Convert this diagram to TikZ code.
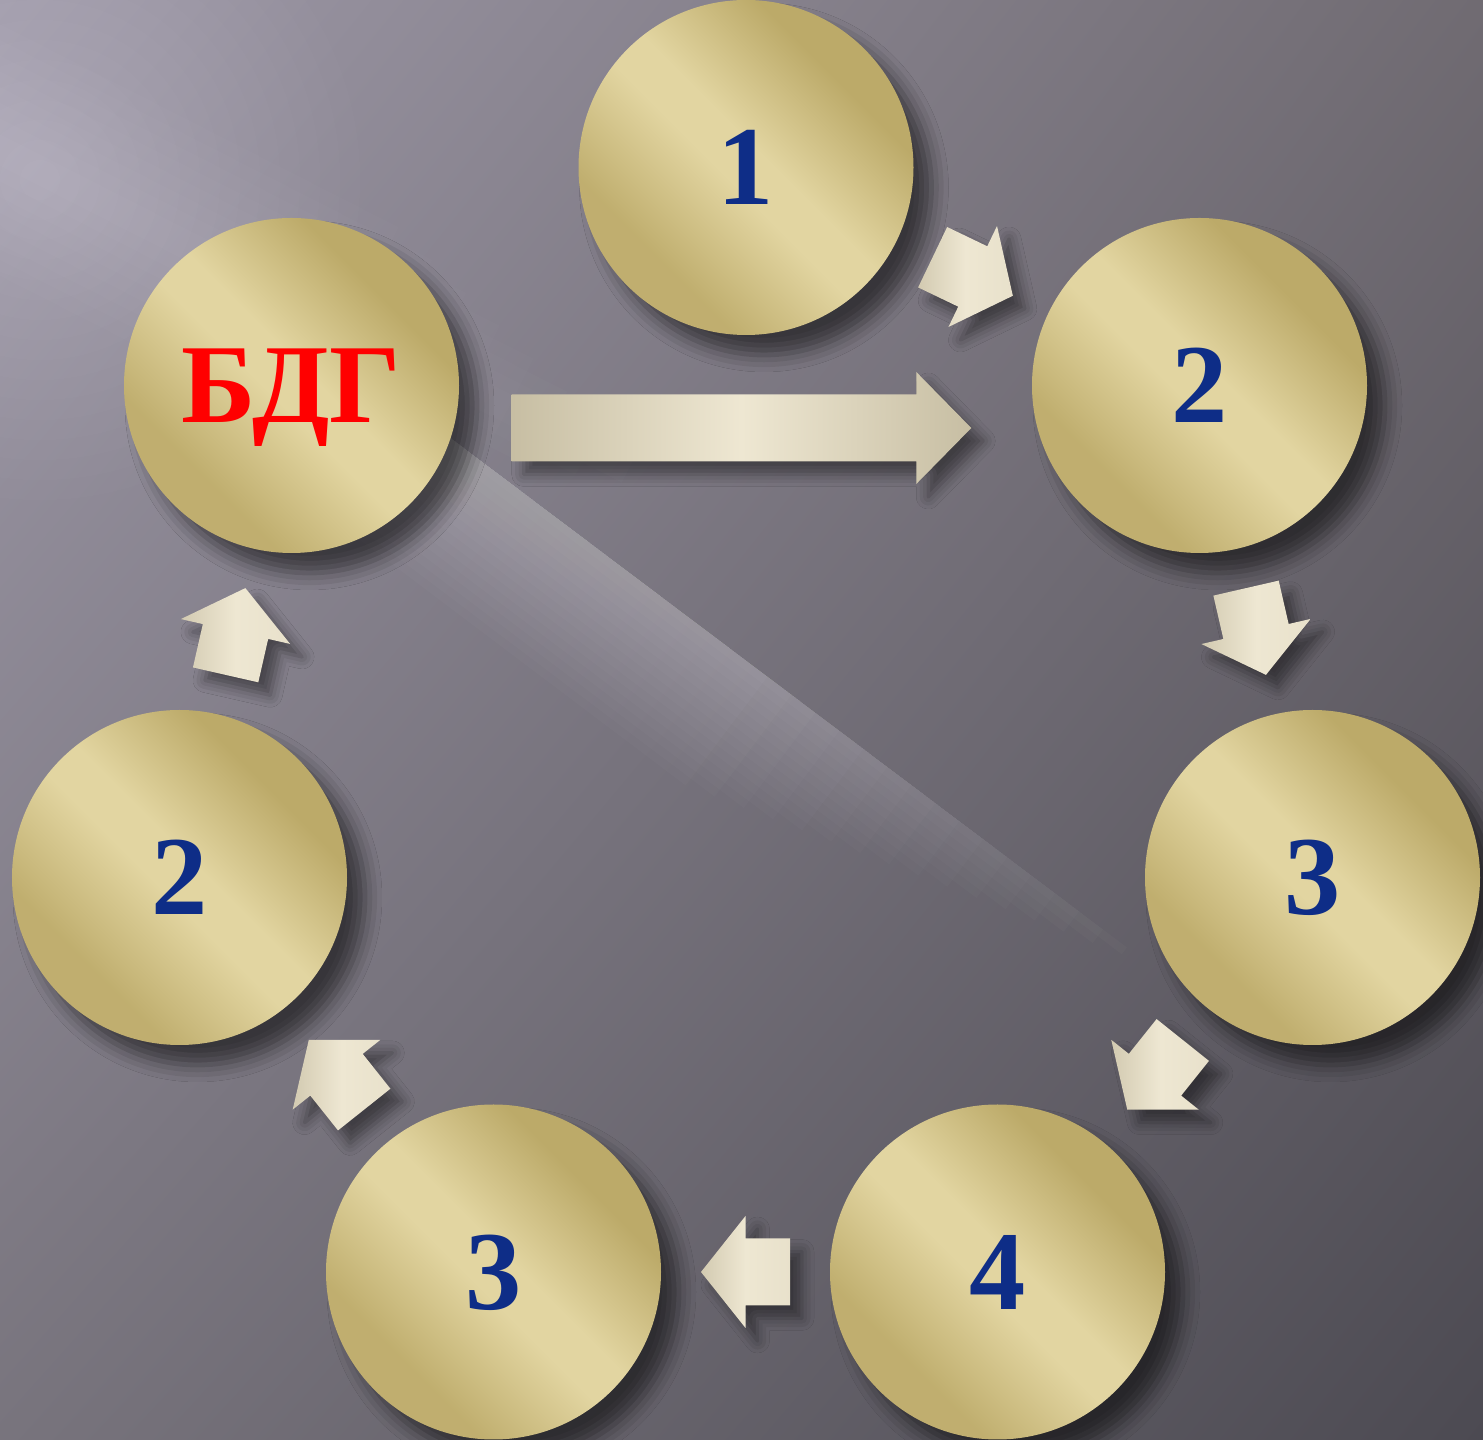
\documentclass[tikz,border=0pt]{standalone}
\usepackage{fontspec}
\setmainfont{Liberation Serif}
\usetikzlibrary{calc,shadows.blur,shadings}

\definecolor{disc}{RGB}{226,213,161}
\definecolor{discdark}{RGB}{188,170,105}
\definecolor{cream}{RGB}{238,231,210}
\definecolor{creamdark}{RGB}{199,190,163}
\definecolor{numblue}{RGB}{14,45,135}
\definecolor{bgul}{RGB}{158,153,168}
\definecolor{bgur}{RGB}{112,107,114}
\definecolor{bgll}{RGB}{120,116,125}
\definecolor{bglr}{RGB}{76,74,82}
\pgfdeclareverticalshading{discshade}{100bp}{color(0bp)=(discdark!90!disc); color(31bp)=(discdark!90!disc);
  color(47bp)=(disc); color(53bp)=(disc); color(69bp)=(discdark); color(100bp)=(discdark)}

\begin{document}
\begin{tikzpicture}[
   disc/.style={circle,minimum size=3.35cm,inner sep=0pt,text depth=0pt,
     shading=discshade,shading angle=-45,
     blur shadow={shadow xshift=0.18cm,shadow yshift=-0.2cm,shadow blur radius=0.17cm,shadow opacity=55},
     font=\fontsize{32pt}{36pt}\selectfont\bfseries,text=numblue},
   arrowshade/.style={left color=creamdark!70!cream,right color=cream!85!creamdark,middle color=cream,
     blur shadow={shadow xshift=0.12cm,shadow yshift=-0.13cm,shadow blur radius=0.12cm,shadow opacity=45}},
   flowarrow/.pic={
     \shade[arrowshade] (-0.445,-0.335) -- (0,-0.335) -- (0,-0.56) -- (0.445,0)
       -- (0,0.56) -- (0,0.335) -- (-0.445,0.335) -- cycle;}]
   \useasboundingbox (0,0) rectangle (14.83,14.40);
   \shade[upper left=bgul,upper right=bgur,lower left=bgll,lower right=bglr] (0,0) rectangle (14.83,14.40);
   \foreach \w in {1,...,16}
     \fill[white,opacity=0.014] (0.4,12.6) circle (0.2*\w);
   \begin{scope}[shift={(4.8,9.8)},rotate=-37]
     \foreach \w in {1,...,16}
       \fill[white,opacity=0.018] (-2.6+0.1*\w,-0.085*\w) rectangle (8.4-0.3*\w,0);
   \end{scope}
   \begin{scope}[shift={(0,12.9)},rotate=-27]
     \foreach \w in {1,...,8}
       \fill[white,opacity=0.014] (-4,-0.14*\w) rectangle (7.5-0.45*\w,0.14*\w);
   \end{scope}
   \node[disc] (one) at (7.46,12.725) {1};
   \node[disc] (two) at (11.995,10.545) {2};
   \node[disc] (three) at (13.125,5.625) {3};
   \node[disc] (four) at (9.975,1.68) {4};
   \node[disc] (threeb) at (4.935,1.68) {3};
   \node[disc] (twob) at (1.795,5.625) {2};
   \node[disc,text=red] (bdg) at (2.915,10.545) {БДГ};
   \foreach \a/\b in {one/two,two/three,three/four,four/threeb,threeb/twob,twob/bdg}
     \path let \p1=($(\b)-(\a)$), \n1={atan2(\y1,\x1)} in
       pic[rotate=\n1] at ($(\a)!0.5!(\b)$) {flowarrow};
   \coordinate (gs) at ($(bdg.east)+(0.52,-0.425)$);
   \coordinate (ge) at ($(two.west)+(-0.6,-0.425)$);
   \shade[arrowshade,left color=creamdark,right color=creamdark,middle color=cream]
     ($(gs)+(0,0.335)$) -- ($(ge)+(-0.55,0.335)$) -- ($(ge)+(-0.55,0.56)$) -- (ge)
     -- ($(ge)+(-0.55,-0.56)$) -- ($(ge)+(-0.55,-0.335)$) -- ($(gs)+(0,-0.335)$) -- cycle;
\end{tikzpicture}
\end{document}
